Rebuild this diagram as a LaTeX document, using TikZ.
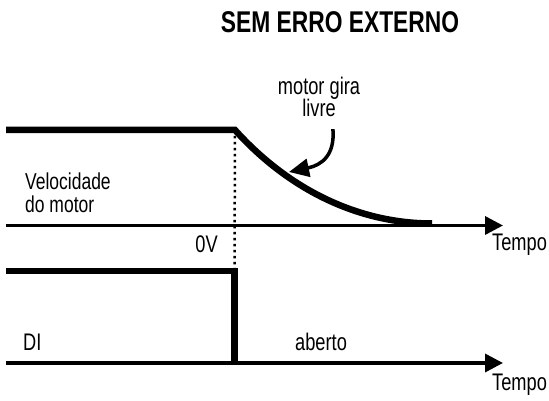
\documentclass[tikz,border=0pt]{standalone}
\usepackage{fontspec}
\setmainfont[FakeStretch=0.76]{Liberation Sans}
\usetikzlibrary{arrows.meta,positioning}

\tikzset{
  lbl/.style={font=\fontsize{24}{26}\selectfont,inner sep=0pt},
  eixo/.style={line width=3.5pt,-{Triangle[length=18pt,width=18pt]}},
  sinal/.style={line width=6.5pt,line join=miter},
}

\begin{document}
\begin{tikzpicture}[x=1pt,y=1pt]
  \useasboundingbox (0,0) rectangle (549,401);
  \node[font=\bfseries\fontsize{30}{32}\selectfont,inner sep=0pt] (titulo) at (340,379) {SEM ERRO EXTERNO};

  % velocidade do motor
  \coordinate (v0) at (6,175.5);
  \coordinate (v1) at (503,175.5);
  \coordinate (vdesl) at (235,271);
  \draw[eixo] (v0) -- (v1);
  \draw[sinal] (6,271) -- (vdesl) .. controls (290,210) and (360,177.5) .. (432,177.5);
  \node[lbl,font=\fontsize{23}{23}\selectfont,align=left,anchor=south west] (vel) at (25,188) {Velocidade\\do motor};
  \node[lbl,anchor=base west] (tempo1) at (492,150.3) {Tempo};
  \node[lbl,anchor=base east] (zerov) at (218,148) {0V};

  % motor gira livre
  \node[lbl,anchor=base] (motorgira) at (319,306) {motor gira};
  \node[lbl,anchor=base] (livre) at (319,284.3) {livre};
  \coordinate (curvapt) at (289,229);
  \draw[line width=3.5pt,-{Triangle[length=20pt,width=18pt]}]
    ([shift={(-3pt,-12pt)}]livre.south east) .. controls (335,246) and (322,236) .. (curvapt);

  % entrada DI
  \coordinate (d0) at (6,38);
  \coordinate (d1) at (503,38);
  \coordinate (ddesl) at (234.5,130);
  \draw[eixo] (d0) -- (d1);
  \draw[sinal] (6,130) -- (ddesl) -- (234.5,38);
  \draw[line width=2.5pt,dash pattern=on 2.5pt off 3.5pt] (vdesl) -- (ddesl);
  \node[lbl,anchor=base west] (di) at (23,50) {DI};
  \node[lbl,anchor=base west] (aberto) at (295,50) {aberto};
  \node[lbl,anchor=base west] (tempo2) at (492,10.3) {Tempo};
\end{tikzpicture}
\end{document}
